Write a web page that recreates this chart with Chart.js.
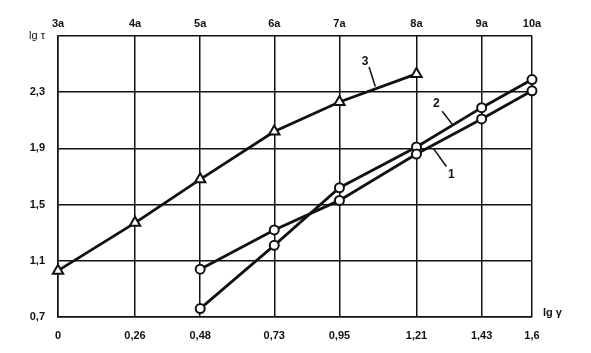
<!DOCTYPE html>
<html>
<head>
<meta charset="utf-8">
<script src="https://cdn.jsdelivr.net/npm/chart.js@4/dist/chart.umd.min.js"></script>
<style>
  body { margin: 0; background: #fff; }
  canvas { display: block; }
</style>
</head>
<body>
<canvas id="chart" width="591" height="353"></canvas>
<script>
// tick values and labels
const xTicks = [0, 0.26, 0.48, 0.73, 0.95, 1.21, 1.43, 1.6];
const xLabels = ['0', '0,26', '0,48', '0,73', '0,95', '1,21', '1,43', '1,6'];
const topLabels = ['3a', '4a', '5a', '6a', '7a', '8a', '9a', '10a'];
const yTicks = [0.7, 1.1, 1.5, 1.9, 2.3, 2.7];
const yLabels = ['0,7', '1,1', '1,5', '1,9', '2,3', 'lg τ'];

// series
const x3 = [0, 0.26, 0.48, 0.73, 0.95, 1.21];
const curve3 = [1.03, 1.37, 1.68, 2.02, 2.23, 2.43];
const x12 = [0.48, 0.73, 0.95, 1.21, 1.43, 1.6];
const curve1 = [1.04, 1.32, 1.53, 1.86, 2.11, 2.31];
const curve2 = [0.76, 1.21, 1.62, 1.91, 2.19, 2.39];

// curve labels with leader lines (data units)
const curveNotes = [
  { text: '3', at: [1.037, 2.52], from: [1.05, 2.48], to: [1.071, 2.34] },
  { text: '2', at: [1.277, 2.22], from: [1.297, 2.164], to: [1.331, 2.071] },
  { text: '1', at: [1.328, 1.71], from: [1.311, 1.771], to: [1.267, 1.9] },
];

const toPoints = (xs, ys) => xs.map((x, i) => ({ x: x, y: ys[i] }));
const font = { family: 'Liberation Sans, Arial, sans-serif', size: 11, weight: 'bold' };

const notesPlugin = {
  id: 'notes',
  afterDatasetsDraw(chart) {
    const { ctx, scales, chartArea } = chart;
    const px = v => scales.x.getPixelForValue(v);
    const py = v => scales.y.getPixelForValue(v);
    ctx.save();
    ctx.fillStyle = '#111';
    ctx.strokeStyle = '#111';
    ctx.lineWidth = 1.5;
    ctx.font = 'bold 12px Liberation Sans, Arial, sans-serif';
    ctx.textAlign = 'center';
    ctx.textBaseline = 'middle';
    curveNotes.forEach(n => {
      ctx.fillText(n.text, px(n.at[0]), py(n.at[1]));
      ctx.beginPath();
      ctx.moveTo(px(n.from[0]), py(n.from[1]));
      ctx.lineTo(px(n.to[0]), py(n.to[1]));
      ctx.stroke();
    });
    ctx.font = 'bold 11px Liberation Sans, Arial, sans-serif';
    ctx.textAlign = 'left';
    ctx.fillText('lg γ', chartArea.right + 11, chartArea.bottom - 4);
    ctx.restore();
  }
};

const lineStyle = {
  borderColor: '#111',
  borderWidth: 2.8,
  tension: 0,
  clip: false,
  pointBackgroundColor: '#fff',
  pointBorderColor: '#111',
  pointBorderWidth: 2,
};

new Chart(document.getElementById('chart').getContext('2d'), {
  type: 'line',
  data: {
    datasets: [
      { ...lineStyle, label: '3', data: toPoints(x3, curve3), pointStyle: 'triangle', pointRadius: 6 },
      { ...lineStyle, label: '1', data: toPoints(x12, curve1), pointStyle: 'circle', pointRadius: 4.5 },
      { ...lineStyle, label: '2', data: toPoints(x12, curve2), pointStyle: 'circle', pointRadius: 4.5 },
    ],
  },
  options: {
    responsive: false,
    animation: false,
    layout: { padding: { left: 0, right: 59, top: 0, bottom: 0 } },
    plugins: {
      legend: { display: false },
      tooltip: { enabled: false },
    },
    scales: {
      x: {
        type: 'linear',
        position: 'bottom',
        min: 0,
        max: 1.6,
        afterBuildTicks: s => { s.ticks = xTicks.map(v => ({ value: v })); },
        afterFit: s => { s.height = 36; },
        grid: { color: '#111', lineWidth: 1.5, drawTicks: false },
        border: { color: '#111', width: 1.5 },
        ticks: {
          color: '#111',
          font: font,
          padding: 12,
          maxRotation: 0,
          autoSkip: false,
          callback: (v, i) => xLabels[i],
        },
      },
      xTop: {
        type: 'linear',
        position: 'top',
        min: 0,
        max: 1.6,
        afterBuildTicks: s => { s.ticks = xTicks.map(v => ({ value: v })); },
        afterFit: s => { s.height = 36; },
        grid: { display: false, drawTicks: false },
        border: { display: false },
        ticks: {
          color: '#111',
          font: font,
          padding: 5,
          maxRotation: 0,
          autoSkip: false,
          callback: (v, i) => topLabels[i],
        },
      },
      y: {
        type: 'linear',
        min: 0.7,
        max: 2.7,
        afterBuildTicks: s => { s.ticks = yTicks.map(v => ({ value: v })); },
        afterFit: s => { s.width = 58; },
        grid: { color: '#111', lineWidth: 1.5, drawTicks: false },
        border: { color: '#111', width: 1.5 },
        ticks: {
          color: '#111',
          font: ctx => ctx.index === yTicks.length - 1
            ? { family: font.family, size: 11, weight: 'normal' }
            : font,
          padding: 13,
          autoSkip: false,
          callback: (v, i) => yLabels[i],
        },
      },
    },
  },
  plugins: [notesPlugin],
});
</script>
</body>
</html>
